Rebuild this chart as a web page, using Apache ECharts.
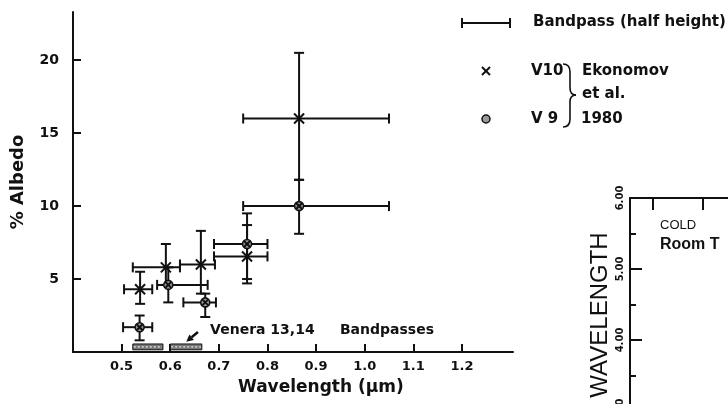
<!DOCTYPE html>
<html>
<head>
<meta charset="utf-8">
<script src="https://cdn.jsdelivr.net/npm/echarts@6/dist/echarts.min.js"></script>
<style>
  html, body { margin: 0; padding: 0; background: #fff; }
  #chart { width: 728px; height: 404px; }
</style>
</head>
<body>
<div id="chart"></div>
<script>
// Venera 10 (crosses)
const v10Wave = [0.538, 0.591, 0.663, 0.758, 0.865];
const v10Albedo = [4.3, 5.8, 6.0, 6.55, 16.0];
const v10Low = [3.3, 4.6, 4.0, 4.7, 11.8];
const v10High = [5.5, 7.4, 8.3, 8.7, 20.5];
const v10BandLo = [0.505, 0.523, 0.62, 0.69, 0.75];
const v10BandHi = [0.563, 0.62, 0.692, 0.80, 1.05];

// Venera 9 (circles)
const v9Wave = [0.537, 0.596, 0.672, 0.758, 0.865];
const v9Albedo = [1.7, 4.6, 3.4, 7.4, 10.0];
const v9Low = [0.8, 3.4, 2.4, 5.0, 8.1];
const v9High = [2.5, 5.8, 4.0, 9.5, 11.8];
const v9BandLo = [0.503, 0.573, 0.627, 0.69, 0.75];
const v9BandHi = [0.563, 0.677, 0.694, 0.80, 1.05];

// Venera 13,14 bandpasses along the axis
const veneraLo = [0.523, 0.600];
const veneraHi = [0.585, 0.665];

const xTicks = [0.5, 0.6, 0.7, 0.8, 0.9, 1.0, 1.1, 1.2];
const yTicks = [5, 10, 15, 20];
// neighbouring figure (cut off on the right)
const wlTicks = [0.46, 1.46, 2.46];

const ink = '#111';
const font = 'DejaVu Sans';
const cap = 5;

const rows = (w, a, lo, hi, bl, bh) => w.map((x, i) => [x, a[i], lo[i], hi[i], bl[i], bh[i]]);

function errorCross(kind) {
  return function (params, api) {
    const x = api.value(0), y = api.value(1);
    const c = api.coord([x, y]);
    const lo = api.coord([x, api.value(2)]);
    const hi = api.coord([x, api.value(3)]);
    const bl = api.coord([api.value(4), y]);
    const br = api.coord([api.value(5), y]);
    const st = { stroke: ink, lineWidth: 2 };
    const seg = (x1, y1, x2, y2) => ({ type: 'line', shape: { x1, y1, x2, y2 }, style: st });
    const kids = [
      seg(lo[0], lo[1], hi[0], hi[1]),
      seg(lo[0] - cap, lo[1], lo[0] + cap, lo[1]),
      seg(hi[0] - cap, hi[1], hi[0] + cap, hi[1]),
      seg(bl[0], bl[1], br[0], br[1]),
      seg(bl[0], bl[1] - cap, bl[0], bl[1] + cap),
      seg(br[0], br[1] - cap, br[0], br[1] + cap)
    ];
    if (kind === 'x') {
      kids.push(seg(c[0] - 5, c[1] - 5, c[0] + 5, c[1] + 5));
      kids.push(seg(c[0] - 5, c[1] + 5, c[0] + 5, c[1] - 5));
    } else {
      kids.push({ type: 'circle', shape: { cx: c[0], cy: c[1], r: 4.5 },
        style: { fill: '#999', stroke: ink, lineWidth: 1.6 } });
      kids.push(seg(c[0] - 3, c[1] - 3, c[0] + 3, c[1] + 3));
      kids.push(seg(c[0] - 3, c[1] + 3, c[0] + 3, c[1] - 3));
    }
    return { type: 'group', children: kids };
  };
}

function veneraBand(params, api) {
  const a = api.coord([api.value(0), 0.55]);
  const b = api.coord([api.value(1), 0.15]);
  return {
    type: 'group',
    children: [
      { type: 'rect', shape: { x: a[0], y: a[1], width: b[0] - a[0], height: b[1] - a[1] },
        style: { fill: '#777', stroke: ink, lineWidth: 1 } },
      { type: 'line', shape: { x1: a[0] + 1, y1: (a[1] + b[1]) / 2, x2: b[0] - 1, y2: (a[1] + b[1]) / 2 },
        style: { stroke: '#fff', lineWidth: 1, lineDash: [2, 2] } }
    ]
  };
}

function veneraNote(params, api) {
  const t1 = api.coord([0.682, 1.5]);
  const t2 = api.coord([0.949, 1.5]);
  const a0 = api.coord([0.657, 1.37]);
  const a1 = api.coord([0.633, 0.7]);
  const ang = Math.atan2(a1[1] - a0[1], a1[0] - a0[0]);
  const h = 7, w = 3.5;
  const bx = a1[0] - h * Math.cos(ang), by = a1[1] - h * Math.sin(ang);
  const px = -Math.sin(ang) * w, py = Math.cos(ang) * w;
  const txt = (p, s) => ({ type: 'text', x: p[0], y: p[1],
    style: { text: s, fill: ink, font: 'bold 14px "' + font + '"', textVerticalAlign: 'middle' } });
  return {
    type: 'group',
    children: [
      txt(t1, 'Venera 13,14'),
      txt(t2, 'Bandpasses'),
      { type: 'line', shape: { x1: a0[0], y1: a0[1], x2: bx, y2: by }, style: { stroke: ink, lineWidth: 2.5 } },
      { type: 'polygon', shape: { points: [[a1[0], a1[1]], [bx + px, by + py], [bx - px, by - py]] },
        style: { fill: ink } }
    ]
  };
}

const axisText = { color: ink, fontFamily: font, fontWeight: 'bold' };
const legendFont = 'bold 15px "' + font + '"';
const stroke2 = { stroke: ink, lineWidth: 2 };
const braceStyle = { stroke: ink, lineWidth: 1.6, fill: 'none' };
const legendText = (x, y, s) => ({ type: 'text', x, y,
  style: { text: s, fill: ink, font: legendFont, textVerticalAlign: 'middle' } });

const chart = echarts.init(document.getElementById('chart'));
chart.setOption({
  backgroundColor: '#fff',
  animation: false,
  grid: [
    { left: 73, top: 12, width: 440, height: 340, outerBoundsMode: 'none', containLabel: false },
    { left: 630, top: 198, width: 400, height: 284, outerBoundsMode: 'none', containLabel: false }
  ],
  xAxis: [
    {
      gridIndex: 0, type: 'value', min: 0.4, max: 1.305,
      axisLine: { lineStyle: { color: ink, width: 2 } },
      axisTick: { inside: true, length: 8, customValues: xTicks, lineStyle: { color: ink, width: 2 } },
      axisLabel: { customValues: xTicks, margin: 8, fontSize: 13, ...axisText,
        formatter: v => v.toFixed(1) },
      splitLine: { show: false }
    },
    {
      gridIndex: 1, type: 'value', position: 'top', min: 0, max: 8,
      axisLine: { lineStyle: { color: ink, width: 2 } },
      axisTick: { inside: true, length: 12, customValues: wlTicks, lineStyle: { color: ink, width: 2 } },
      axisLabel: { show: false },
      splitLine: { show: false }
    }
  ],
  yAxis: [
    {
      gridIndex: 0, type: 'value', min: 0, max: 23.3,
      name: '% Albedo', nameLocation: 'middle', nameRotate: 90, nameGap: 46,
      nameTextStyle: { fontSize: 18, ...axisText },
      axisLine: { onZero: false, lineStyle: { color: ink, width: 2 } },
      axisTick: { inside: true, length: 8, customValues: yTicks, lineStyle: { color: ink, width: 2 } },
      axisLabel: { customValues: yTicks, margin: 14, fontSize: 14, ...axisText },
      splitLine: { show: false }
    },
    {
      gridIndex: 1, type: 'value', min: 2, max: 6, interval: 1,
      axisLine: { onZero: false, lineStyle: { color: ink, width: 2 } },
      axisTick: { inside: true, length: 12, lineStyle: { color: ink, width: 2 } },
      minorTick: { show: true, splitNumber: 2, length: 6, lineStyle: { color: ink, width: 2 } },
      axisLabel: { rotate: 90, margin: 5, fontSize: 10, color: ink, fontFamily: font, fontWeight: 'bold',
        formatter: v => v.toFixed(2) },
      splitLine: { show: false }
    }
  ],
  series: [
    { type: 'custom', name: 'V10', xAxisIndex: 0, yAxisIndex: 0, encode: { x: 0, y: 1 },
      renderItem: errorCross('x'), data: rows(v10Wave, v10Albedo, v10Low, v10High, v10BandLo, v10BandHi) },
    { type: 'custom', name: 'V 9', xAxisIndex: 0, yAxisIndex: 0, encode: { x: 0, y: 1 },
      renderItem: errorCross('o'), data: rows(v9Wave, v9Albedo, v9Low, v9High, v9BandLo, v9BandHi) },
    { type: 'custom', name: 'Venera 13,14', xAxisIndex: 0, yAxisIndex: 0, encode: { x: [0, 1] },
      renderItem: veneraBand, data: veneraLo.map((v, i) => [v, veneraHi[i]]) },
    { type: 'custom', name: 'note', xAxisIndex: 0, yAxisIndex: 0, encode: { x: 0, y: 1 },
      renderItem: veneraNote, data: [[0.682, 1.5]] }
  ],
  graphic: [
    // x axis title
    { type: 'text', x: 238, y: 388,
      style: { text: 'Wavelength (µm)', fill: ink, font: 'bold 17px "' + font + '"', textVerticalAlign: 'middle' } },
    // legend
    { type: 'line', shape: { x1: 462, y1: 23, x2: 510, y2: 23 }, style: stroke2 },
    { type: 'line', shape: { x1: 462, y1: 18, x2: 462, y2: 28 }, style: stroke2 },
    { type: 'line', shape: { x1: 510, y1: 18, x2: 510, y2: 28 }, style: stroke2 },
    legendText(533, 22, 'Bandpass (half height)'),
    { type: 'line', shape: { x1: 482, y1: 67, x2: 490, y2: 75 }, style: stroke2 },
    { type: 'line', shape: { x1: 482, y1: 75, x2: 490, y2: 67 }, style: stroke2 },
    { type: 'circle', shape: { cx: 486, cy: 119, r: 4 }, style: { fill: '#999', stroke: ink, lineWidth: 1.5 } },
    legendText(531, 71, 'V10'),
    legendText(531, 119, 'V 9'),
    // curly brace
    { type: 'bezierCurve', shape: { x1: 563, y1: 64, cpx1: 570, cpy1: 64, x2: 570, y2: 72 }, style: braceStyle },
    { type: 'line', shape: { x1: 570, y1: 72, x2: 570, y2: 88 }, style: braceStyle },
    { type: 'bezierCurve', shape: { x1: 570, y1: 88, cpx1: 570, cpy1: 95, x2: 576, y2: 95 }, style: braceStyle },
    { type: 'bezierCurve', shape: { x1: 576, y1: 95, cpx1: 570, cpy1: 95, x2: 570, y2: 102 }, style: braceStyle },
    { type: 'line', shape: { x1: 570, y1: 102, x2: 570, y2: 119 }, style: braceStyle },
    { type: 'bezierCurve', shape: { x1: 570, y1: 119, cpx1: 570, cpy1: 127, x2: 563, y2: 127 }, style: braceStyle },
    legendText(582, 71, 'Ekonomov'),
    legendText(582, 94, 'et al.'),
    legendText(581, 119, '1980'),
    // neighbouring figure texts
    { type: 'text', x: 600, y: 315, rotation: Math.PI / 2,
      style: { text: 'WAVELENGTH', fill: ink, font: '24px "Liberation Sans"', textAlign: 'center', textVerticalAlign: 'middle' } },
    { type: 'text', x: 660, y: 225, style: { text: 'COLD', fill: ink, font: '13px "Liberation Sans"', textVerticalAlign: 'middle' } },
    { type: 'text', x: 660, y: 245, style: { text: 'Room T', fill: ink, font: 'bold 16px "Liberation Sans"', textVerticalAlign: 'middle' } }
  ]
});
</script>
</body>
</html>
